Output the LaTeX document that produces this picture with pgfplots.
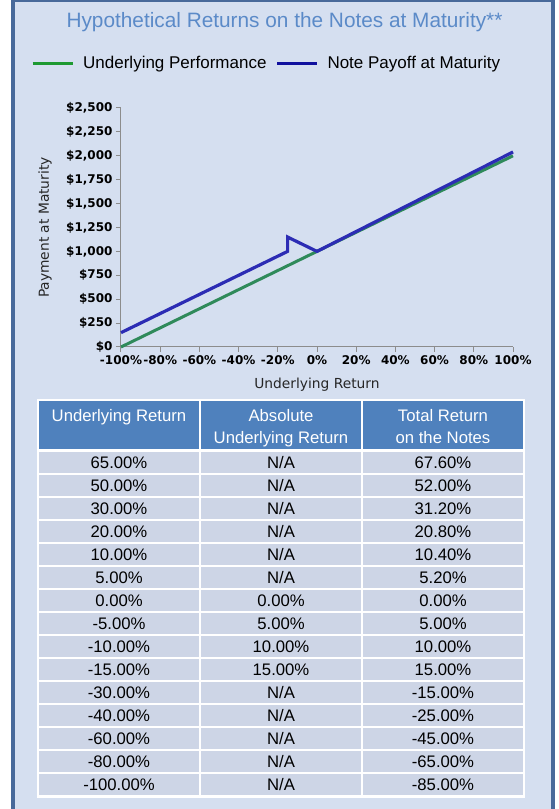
\documentclass[border=0pt]{standalone}
\usepackage{pgfplots}
\pgfplotsset{compat=1.18}
\usepackage{fontspec}
\setmainfont{Liberation Sans}
\newfontfamily\dejavu{DejaVu Sans}
\definecolor{bgc}{HTML}{D5DFF0}
\definecolor{rowc}{HTML}{CDD5E6}
\definecolor{headc}{HTML}{4F81BD}
\definecolor{framec}{HTML}{48699A}
\definecolor{titlec}{HTML}{5B8AC8}
\definecolor{axisc}{HTML}{8C8C8C}
\definecolor{pgreen}{HTML}{2F8A5A}
\definecolor{pblue}{HTML}{2C2CB4}
\definecolor{lgreen}{HTML}{1E9A32}
\definecolor{lblue}{HTML}{10109E}
\def\NA{N/A}
\begin{document}
\begin{tikzpicture}[x=1pt,y=1pt]
\fill[white] (0,0) rectangle (559,809);
\fill[bgc] (13,0) rectangle (553,807);
\fill[framec] (11,0) rectangle (15,809);
\fill[framec] (551,0) rectangle (555,809);
\fill[framec] (11,806.5) rectangle (555,809);
\node[anchor=base, text=titlec, font=\fontsize{20.8}{24}\selectfont, inner sep=0pt] at (284.5,781.5) {Hypothetical Returns on the Notes at Maturity**};

\begin{axis}[
  at={(121pt,462pt)}, anchor=south west, scale only axis,
  width=392pt, height=239pt,
  xmin=-100, xmax=100, ymin=0, ymax=2500, clip=false,
  axis lines*=left,
  axis line style={draw=axisc, line width=1pt, -},
  tick align=outside, major tick length=5pt,
  tick style={draw=axisc, line width=1pt},
  xtick={-100,-80,-60,-40,-20,0,20,40,60,80,100},
  xticklabels={-100\%,-80\%,-60\%,-40\%,-20\%,0\%,20\%,40\%,60\%,80\%,100\%},
  ytick={0,250,500,750,1000,1250,1500,1750,2000,2250,2500},
  yticklabels={{\$0},{\$250},{\$500},{\$750},{\$1,000},{\$1,250},{\$1,500},{\$1,750},{\$2,000},{\$2,250},{\$2,500}},
  /pgf/number format/assume math mode=true,
  ticklabel style={font=\dejavu\bfseries\fontsize{12}{14}\selectfont},
  xlabel={Underlying Return}, ylabel={Payment at Maturity},
  label style={font=\dejavu\fontsize{13.8}{16}\selectfont, text=black!85},
  xlabel style={at={(axis description cs:0.5,-0.158)}, anchor=center},
  ylabel style={at={(axis description cs:-0.194,0.5)}, anchor=center},
  legend columns=2,
  legend style={draw=none, fill=none, at={(axis description cs:-0.2296,1.186)}, anchor=west,
    font=\fontsize{17}{20}\selectfont, inner sep=0pt,
    /tikz/every odd column/.append style={column sep=7pt},
    /tikz/every even column/.append style={column sep=7pt}},
  legend image code/.code={\draw[#1] (0pt,0pt) -- (40pt,0pt);},
]
\addlegendimage{color=lgreen, line width=3pt}
\addlegendentry{Underlying Performance}
\addlegendimage{color=lblue, line width=3pt}
\addlegendentry{Note Payoff at Maturity}
\addplot[color=pgreen, line width=3pt, forget plot] coordinates {(-100,0) (100,2000)};
\addplot[color=pblue, line width=3.2pt, forget plot] coordinates {(-100,150) (-15,1000) (-15,1150) (0,1000) (100,2040)};
\end{axis}

% table
\fill[white] (37,11) rectangle (525,410);
\foreach \xa/\xb in {39/199,201/361,363/523}{
  \fill[headc] (\xa,359.5) rectangle (\xb,408);
}
\node[anchor=base, text=white, font=\fontsize{16.7}{20}\selectfont, inner sep=0pt] at (119,387) {Underlying Return};
\node[anchor=base, text=white, font=\fontsize{16.7}{20}\selectfont, inner sep=0pt] at (281,387) {Absolute};
\node[anchor=base, text=white, font=\fontsize{16.7}{20}\selectfont, inner sep=0pt] at (281,365) {Underlying Return};
\node[anchor=base, text=white, font=\fontsize{16.7}{20}\selectfont, inner sep=0pt] at (443,387) {Total Return};
\node[anchor=base, text=white, font=\fontsize{16.7}{20}\selectfont, inner sep=0pt] at (443,365) {on the Notes};
\foreach \a/\b/\c [count=\i from 0] in {
  65.00\%/\NA/67.60\%,
  50.00\%/\NA/52.00\%,
  30.00\%/\NA/31.20\%,
  20.00\%/\NA/20.80\%,
  10.00\%/\NA/10.40\%,
  5.00\%/\NA/5.20\%,
  0.00\%/0.00\%/0.00\%,
  -5.00\%/5.00\%/5.00\%,
  -10.00\%/10.00\%/10.00\%,
  -15.00\%/15.00\%/15.00\%,
  -30.00\%/\NA/-15.00\%,
  -40.00\%/\NA/-25.00\%,
  -60.00\%/\NA/-45.00\%,
  -80.00\%/\NA/-65.00\%,
  -100.00\%/\NA/-85.00\%}{
  \pgfmathsetmacro{\ytop}{809-452-23*\i}
  \pgfmathsetmacro{\ybot}{\ytop-21}
  \pgfmathsetmacro{\ybase}{\ytop-16.4}
  \fill[rowc] (39,\ybot) rectangle (199,\ytop);
  \fill[rowc] (201,\ybot) rectangle (361,\ytop);
  \fill[rowc] (363,\ybot) rectangle (523,\ytop);
  \node[anchor=base, font=\fontsize{16.7}{20}\selectfont, inner sep=0pt] at (119,\ybase) {\a};
  \node[anchor=base, font=\fontsize{16.7}{20}\selectfont, inner sep=0pt] at (281,\ybase) {\b};
  \node[anchor=base, font=\fontsize{16.7}{20}\selectfont, inner sep=0pt] at (443,\ybase) {\c};
}
\path[use as bounding box] (0,0) rectangle (559,809);
\end{tikzpicture}
\end{document}
